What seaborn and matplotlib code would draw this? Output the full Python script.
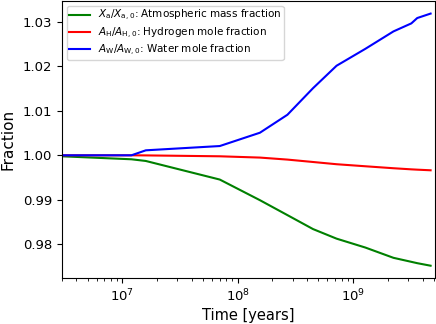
import numpy as np
import pandas as pd
import seaborn as sns
import matplotlib
matplotlib.use("Agg")
import matplotlib.pyplot as plt

# time samples [years]
time = [3e6, 1.2e7, 1.6e7, 7.0e7, 1.56e8, 2.7e8, 4.5e8, 7.2e8, 1.28e9, 2.24e9, 3.2e9, 3.6e9, 4.7e9]

# atmospheric mass fraction X_a / X_a,0
atm_frac = [0.99978, 0.99911, 0.99873, 0.99456, 0.98993, 0.98658, 0.98345, 0.98130, 0.97930,
            0.97700, 0.97610, 0.97580, 0.97523]
# hydrogen mole fraction A_H / A_H,0
h_frac = [1.00000, 1.00000, 0.99998, 0.99978, 0.99949, 0.99904, 0.99850, 0.99800, 0.99754,
          0.99710, 0.99685, 0.99678, 0.99664]
# water mole fraction A_W / A_W,0
w_frac = [1.00000, 1.00000, 1.00112, 1.00208, 1.00507, 1.00910, 1.01506, 1.02010, 1.02390,
          1.02780, 1.02960, 1.03080, 1.03180]

labels = [r"$X_\mathrm{a}/X_\mathrm{a,0}$: Atmospheric mass fraction",
          r"$A_\mathrm{H}/A_\mathrm{H,0}$: Hydrogen mole fraction",
          r"$A_\mathrm{W}/A_\mathrm{W,0}$: Water mole fraction"]
colors = ["g", "r", "b"]

frames = []
for lab, vals in zip(labels, [atm_frac, h_frac, w_frac]):
    frames.append(pd.DataFrame({"time": time, "frac": vals, "series": lab}))
df = pd.concat(frames, ignore_index=True)

fig = plt.figure(figsize=(4.36, 3.24), dpi=100)
ax = fig.add_axes([0.142, 0.141, 0.855, 0.856])

sns.lineplot(data=df, x="time", y="frac", hue="series", palette=colors,
             linewidth=1.5, ax=ax)

ax.set_xscale("log")
ax.set_xlim(3e6, 5.1e9)
ax.set_xlabel("Time [years]", fontsize=10.5, labelpad=2.5)
ax.set_ylabel("Fraction", fontsize=11, labelpad=5)
ax.tick_params(labelsize=9.5)
ax.legend(loc="upper left", fontsize=7.5, labelspacing=0.2, borderpad=0.2)

fig.savefig("out.png", dpi=100)
